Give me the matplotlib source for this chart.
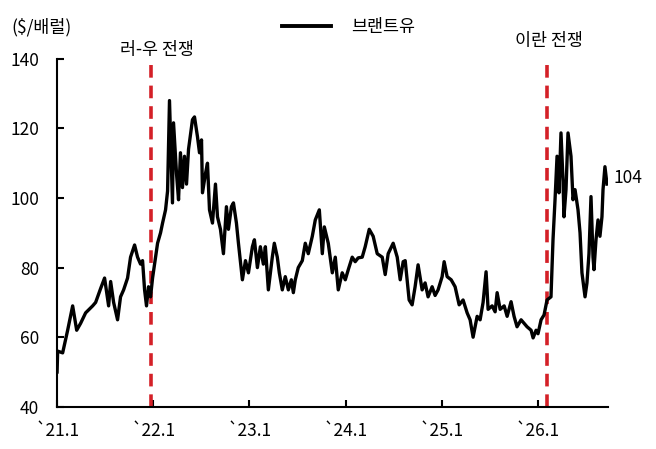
import matplotlib
matplotlib.use("Agg")
import matplotlib.pyplot as plt
from matplotlib.lines import Line2D
import numpy as np

plt.rcParams['font.family'] = ['Noto Sans CJK KR', 'DejaVu Sans']

# Brent crude price ($/bbl)
dates = [
    2021.000, 2021.006, 2021.058, 2021.110, 2021.162, 2021.204, 2021.245, 2021.297,
    2021.370, 2021.401, 2021.453, 2021.494, 2021.536, 2021.557, 2021.588, 2021.629,
    2021.660, 2021.692, 2021.733, 2021.764, 2021.806, 2021.837, 2021.868, 2021.889,
    2021.910, 2021.930, 2021.951, 2021.972, 2021.993, 2022.045, 2022.076, 2022.097,
    2022.128, 2022.149, 2022.169, 2022.200, 2022.211, 2022.242, 2022.263, 2022.283,
    2022.304, 2022.325, 2022.346, 2022.367, 2022.408, 2022.429, 2022.460, 2022.481,
    2022.502, 2022.512, 2022.543, 2022.564, 2022.585, 2022.616, 2022.647, 2022.668,
    2022.699, 2022.730, 2022.761, 2022.782, 2022.813, 2022.834, 2022.865, 2022.886,
    2022.927, 2022.959, 2022.990, 2023.031, 2023.052, 2023.083, 2023.114, 2023.145,
    2023.166, 2023.197, 2023.238, 2023.259, 2023.290, 2023.311, 2023.342, 2023.373,
    2023.405, 2023.436, 2023.457, 2023.477, 2023.508, 2023.550, 2023.581, 2023.612,
    2023.654, 2023.685, 2023.727, 2023.758, 2023.779, 2023.820, 2023.862, 2023.893,
    2023.924, 2023.965, 2023.997, 2024.028, 2024.069, 2024.100, 2024.131, 2024.173,
    2024.204, 2024.246, 2024.287, 2024.329, 2024.381, 2024.412, 2024.443, 2024.495,
    2024.537, 2024.568, 2024.599, 2024.620, 2024.640, 2024.661, 2024.692, 2024.723,
    2024.754, 2024.796, 2024.827, 2024.858, 2024.900, 2024.931, 2024.962, 2025.004,
    2025.025, 2025.056, 2025.098, 2025.139, 2025.181, 2025.222, 2025.264, 2025.295,
    2025.326, 2025.368, 2025.399, 2025.430, 2025.461, 2025.482, 2025.524, 2025.555,
    2025.576, 2025.607, 2025.649, 2025.680, 2025.721, 2025.752, 2025.783, 2025.825,
    2025.856, 2025.887, 2025.929, 2025.950, 2025.981, 2026.001, 2026.033, 2026.064,
    2026.095, 2026.136, 2026.157, 2026.178, 2026.199, 2026.219, 2026.240, 2026.261,
    2026.271, 2026.292, 2026.313, 2026.344, 2026.365, 2026.386, 2026.417, 2026.438,
    2026.458, 2026.490, 2026.510, 2026.531, 2026.552, 2026.573, 2026.583, 2026.604,
    2026.625, 2026.645, 2026.666, 2026.677, 2026.697, 2026.718,
]
brent = [
    50.0, 56.0, 55.5, 62.0, 69.0, 62.0, 64.0, 67.0,
    69.0, 70.0, 74.0, 77.0, 69.0, 76.0, 70.0, 65.0,
    71.6, 73.6, 77.0, 83.0, 86.5, 83.0, 81.0, 82.0,
    73.6, 69.0, 74.5, 71.6, 77.0, 87.0, 90.0, 92.8,
    96.6, 102.0, 128.0, 98.6, 121.6, 107.0, 99.5, 113.0,
    103.0, 112.0, 104.0, 114.0, 122.5, 123.3, 117.6, 113.0,
    116.7, 101.5, 107.0, 110.0, 96.6, 92.8, 104.0, 94.6,
    91.0, 84.0, 97.5, 91.0, 97.5, 98.6, 92.8, 87.0,
    76.5, 82.0, 78.5, 86.0, 88.0, 80.0, 86.0, 81.0,
    86.0, 73.6, 83.0, 87.0, 83.0, 78.5, 73.6, 77.4,
    73.6, 76.5, 72.8, 76.5, 80.0, 82.0, 87.0, 84.0,
    89.0, 93.7, 96.6, 84.0, 91.7, 87.0, 78.5, 83.0,
    73.6, 78.5, 76.5, 79.4, 83.0, 81.7, 82.8, 83.0,
    86.0, 91.0, 89.0, 84.0, 83.0, 78.0, 84.0, 87.0,
    83.0, 76.5, 81.7, 82.0, 76.5, 70.7, 69.3, 74.5,
    80.8, 73.6, 75.6, 71.6, 74.5, 72.0, 73.6, 77.4,
    81.7, 77.4, 76.5, 74.5, 69.3, 70.7, 67.0, 65.0,
    60.0, 66.0, 65.0, 70.0, 78.8, 68.0, 69.0, 67.3,
    72.8, 68.0, 69.0, 66.0, 70.2, 66.0, 63.0, 65.0,
    64.0, 63.0, 62.0, 59.8, 62.0, 61.0, 65.0, 66.4,
    70.7, 71.6, 88.0, 99.5, 112.0, 101.5, 118.7, 105.0,
    94.6, 102.4, 118.7, 112.0, 99.5, 102.4, 96.6, 90.0,
    78.5, 71.6, 75.6, 84.0, 100.4, 83.0, 79.4, 88.0,
    93.7, 89.0, 94.6, 102.4, 109.0, 104.0,
]
tick_pos = [2021, 2022, 2023, 2024, 2025, 2026]
tick_labels = ["`21.1", "`22.1", "`23.1", "`24.1", "`25.1", "`26.1"]
events = [2021.979, 2026.098]
event_labels = ["러-우 전쟁", "이란 전쟁"]
last_label = "104"

fig = plt.figure(figsize=(6.56, 4.49), dpi=100)
ax = fig.add_axes([0.087, 0.094, 0.840, 0.775])

ax.plot(dates, brent, color='black', lw=2.4, zorder=3)
for ev in events:
    ax.axvline(ev, color='#d42027', lw=2.6, ls=(0, (3.5, 2.2)), zorder=2)

ax.set_xlim(2021.0, 2026.73)
ax.set_ylim(40, 140)
ax.set_yticks(np.arange(40, 141, 20))
ax.set_xticks(tick_pos)
ax.set_xticklabels(tick_labels)
ax.tick_params(axis='both', direction='in', length=5, width=1.5, labelsize=12.5, colors='black')
ax.tick_params(axis='y', pad=13)
ax.tick_params(axis='x', pad=11)
for s in ['top', 'right']:
    ax.spines[s].set_visible(False)
for s in ['left', 'bottom']:
    ax.spines[s].set_linewidth(1.5)

ax.text(events[0] + 0.06, 142.6, event_labels[0], ha='center', va='center', fontsize=12.5)
ax.text(events[1] + 0.02, 145.2, event_labels[1], ha='center', va='center', fontsize=12.5, clip_on=False)
ax.text(dates[-1] + 0.07, 105.7, last_label, ha='left', va='center', fontsize=12.5)

fig.text(0.018, 0.94, "($/배럴)", ha='left', va='center', fontsize=12.5)
handle = Line2D([], [], color='black', lw=2.8)
fig.legend(handles=[handle], labels=['브랜트유'], loc='center left', bbox_to_anchor=(0.430, 0.94),
           frameon=False, fontsize=12.5, handlelength=2.8, handletextpad=1.2,
           borderpad=0, borderaxespad=0)

fig.savefig("out.png", dpi=100)
